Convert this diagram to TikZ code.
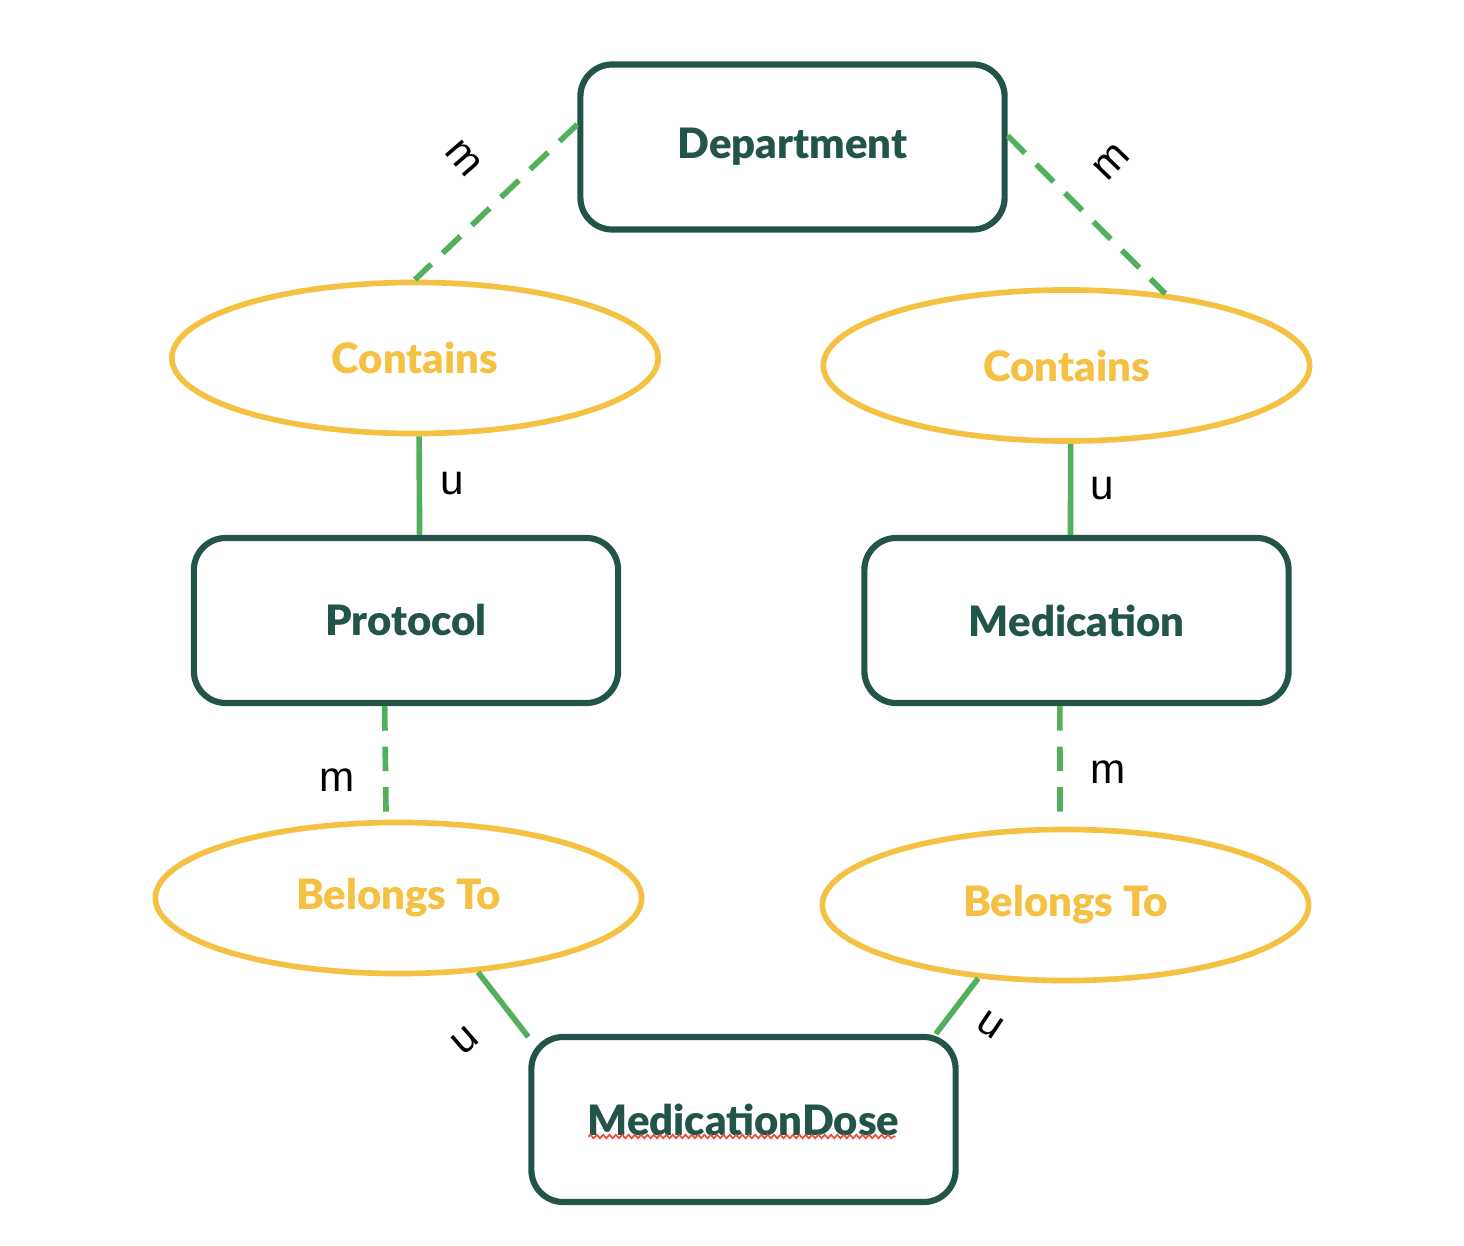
\documentclass[tikz,border=0pt]{standalone}
\usepackage{fontspec}
\setmainfont{Lato}[BoldFont={* Black}]
\newfontfamily\cardfont{Liberation Sans}
\usepackage{xcolor}
\usetikzlibrary{positioning}
\usetikzlibrary{calc,shapes.geometric}
\usetikzlibrary{decorations.pathmorphing}

\definecolor{entgreen}{RGB}{35,84,74}
\definecolor{relyellow}{RGB}{244,193,66}
\definecolor{linkgreen}{RGB}{82,176,90}
\definecolor{spellred}{RGB}{230,80,60}

\tikzset{
	entity/.style = {draw=entgreen, line width=1.75pt, rounded corners=0.32cm,
		minimum width=4.24cm, minimum height=1.65cm, inner sep=0pt,
		text=entgreen, font=\fontsize{11.9}{14}\selectfont\bfseries},
	relation/.style = {ellipse, draw=relyellow, line width=1.6pt,
		minimum width=4.86cm, minimum height=1.51cm, inner sep=0pt,
		text=relyellow, font=\fontsize{11.9}{14}\selectfont\bfseries},
	onelink/.style = {draw=linkgreen, line width=1.6pt},
	manylink/.style = {onelink, dash pattern=on 7pt off 4.5pt},
	card/.style = {inner sep=0pt, text=black, font=\cardfont\fontsize{12}{14}\selectfont},
	spell/.style = {draw=spellred, line width=0.5pt, decorate,
		decoration={snake, amplitude=0.5pt, segment length=1.8pt}},
}

\begin{document}
\begin{tikzpicture}[x=0.01cm, y=-0.01cm]
	
	% one unit is one pixel of the sketch, y counts downwards
	\useasboundingbox (0,0) rectangle (1464,1246);
	
	% entities
	\node[entity] (Dep)  at (792.5,147)   {Department};
	\node[entity] (Pro)  at (406,620.5)   {Protocol};
	\node[entity] (Med)  at (1076.5,620.5) {Medication};
	\node[entity] (Dose) at (743.5,1119.5) {MedicationDose};
	
	% relations
	\node[relation] (Con1) at (415,358)    {Contains};
	\node[relation] (Con2) at (1066.5,365.5) {Contains};
	\node[relation] (Bel1) at (398.5,898)  {Belongs To};
	\node[relation] (Bel2) at (1065.5,905) {Belongs To};
	
	%%%%%%%%%%%%%%%%%%%%%%%%%%%%%%%%%%%%%%%%%%%%%%%%%%%%%%%%%%%%%%
	% links, anchors given as angles from the node centre
	
	\draw[manylink] (Dep.174) -- node[card, pos=0.47, shift={(-37,-39)}, rotate=-49] (mA) {m} (Con1.north);
	\draw[manylink] (Dep.3)   -- node[card, pos=0.41, shift={(39,-39)}, rotate=46] (mB) {m} (Con2.36);
	
	\draw[onelink] (Con1.-87) -- node[card, pos=0.5, shift={(33,-2)}] (uA) {u} (Pro.81);
	\draw[onelink] (Con2.-87) -- node[card, pos=0.5, shift={(32,-1)}] (uB) {u} (Med.94);
	
	\draw[manylink] (Pro.-104) -- node[card, pos=0.5, shift={(-48,17)}] (mC) {m} (Bel1.99.5);
	\draw[manylink] (Med.-101) -- node[card, pos=0.5, shift={(48,6)}] (mD) {m} (Bel2.94);
	
	\draw[onelink] (Bel1.-43)  -- node[card, pos=0.54, shift={(-40,33)}, rotate=41] (uC) {u} (Dose.159);
	\draw[onelink] (Bel2.-140) -- node[card, pos=0.41, shift={(30,24)}, rotate=-34] (uD) {u} (Dose.24);
	
	% wavy underline under the dose name
	\draw[spell] ($(Dose.center)+(-155,17)$) -- ($(Dose.center)+(152,17)$);
	
\end{tikzpicture}
\end{document}
